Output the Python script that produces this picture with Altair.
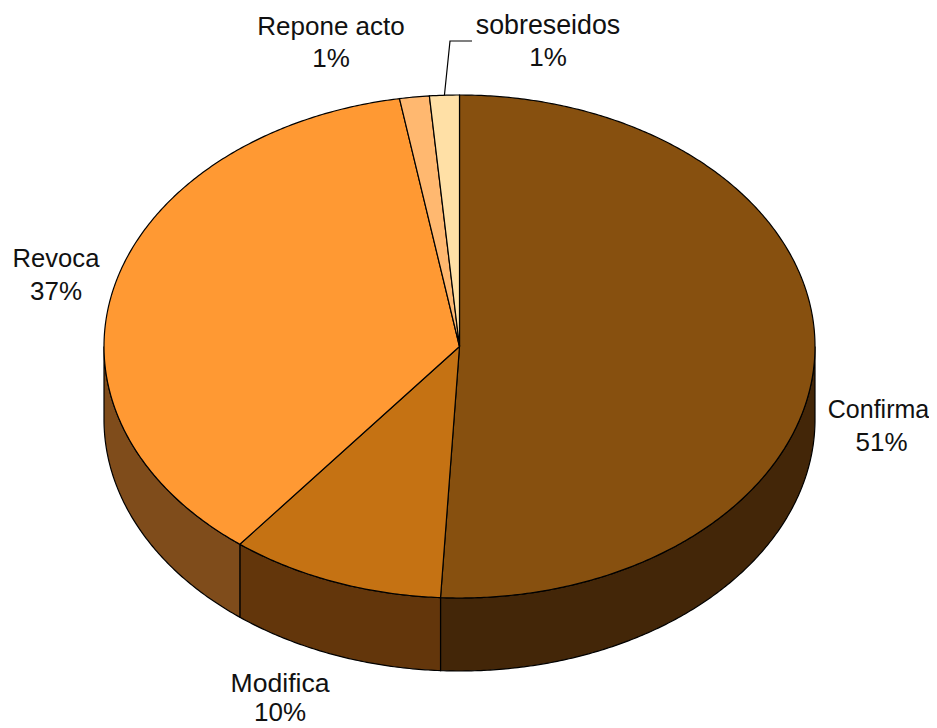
import math
import altair as alt
import pandas as pd

# Data
categories = ["Confirma", "Modifica", "Revoca", "Repone acto", "sobreseidos"]
shares = [50.85, 9.75, 36.7, 1.35, 1.35]
percent_labels = ["51%", "10%", "37%", "1%", "1%"]
top_colors = ["#87500F", "#C57213", "#FF9933", "#FFB870", "#FFE0A6"]
side_colors = ["#432608", "#63360B", "#7F4C1B", "#7F5C38", "#7F7053"]
label_x = [878.5, 280, 56, 331, 548]
label_y = [410, 684, 259, 27, 26]
label_size = [25, 26.6, 25.6, 26, 26.8]
percent_x = [881.5, 280, 56, 331, 548]
percent_y = [443, 713, 292, 59, 58]

# Pie geometry, in picture pixels
CX, CY, RX, RY, DEPTH = 459.5, 346.5, 355.5, 251.5, 73
W, H = 921, 712
OFF = 8


def pt(turn, drop=0.0):
    a = 2 * math.pi * turn
    return CX + RX * math.sin(a) - OFF, CY - RY * math.cos(a) + drop - OFF


def steps(a, b, n=None):
    n = n or max(3, int(abs(b - a) * 720))
    return [a + (b - a) * i / n for i in range(n + 1)]


x_scale = alt.Scale(domain=[0, W], range=[0, W], nice=False, zero=False)
y_scale = alt.Scale(domain=[0, H], range=[0, H], nice=False, zero=False)


def outline(points, fill=None, stroke="#000000", width=1.2, closed=True):
    df = pd.DataFrame([{"x": p[0], "y": p[1], "i": i} for i, p in enumerate(points)])
    kw = {"stroke": stroke, "strokeWidth": width, "interpolate": "linear-closed" if closed else "linear"}
    if fill:
        kw["fill"] = fill
    return alt.Chart(df).mark_line(**kw).encode(
        x=alt.X("x:Q", scale=x_scale, axis=None),
        y=alt.Y("y:Q", scale=y_scale, axis=None),
        order="i:Q",
    )


layers = []
edges = [0.0]
for s in shares:
    edges.append(edges[-1] + s / sum(shares))

# walls: only the front half of the disc shows a side
for k in range(len(shares)):
    a, b = max(edges[k], 0.25), min(edges[k + 1], 0.75)
    if a >= b:
        continue
    ts = steps(a, b)
    pts = [pt(t) for t in ts] + [pt(t, DEPTH) for t in reversed(ts)]
    layers.append(outline(pts, fill=side_colors[k]))

# top face
for k in range(len(shares)):
    ts = steps(edges[k], edges[k + 1])
    pts = [(CX - OFF, CY - OFF)] + [pt(t) for t in ts]
    layers.append(outline(pts, fill=top_colors[k]))

# leader line of the smallest slice
leader = [pt(edges[4] + 0.5 * shares[4] / 100), (450 - OFF, 41 - OFF), (472 - OFF, 41 - OFF)]
layers.append(outline(leader, closed=False))

# labels
rows = []
for k in range(len(categories)):
    rows.append({"x": label_x[k] - OFF, "y": label_y[k] - OFF, "t": categories[k], "fs": label_size[k]})
    rows.append({"x": percent_x[k] - OFF, "y": percent_y[k] - OFF, "t": percent_labels[k], "fs": 26})
labels = alt.Chart(pd.DataFrame(rows)).mark_text(
    font="Liberation Sans", color="#111111", align="center", baseline="middle"
).encode(
    x=alt.X("x:Q", scale=x_scale, axis=None),
    y=alt.Y("y:Q", scale=y_scale, axis=None),
    text="t:N",
    size=alt.Size("fs:Q", scale=None, legend=None),
)
layers.append(labels)

chart = alt.layer(*layers).properties(
    width=W, height=H + 7, padding=0, background="#FFFFFF",
    autosize=alt.AutoSizeParams(type="none"),
).configure_view(stroke=None)

chart.save("out.html", embed_options={"renderer": "svg", "actions": False})
